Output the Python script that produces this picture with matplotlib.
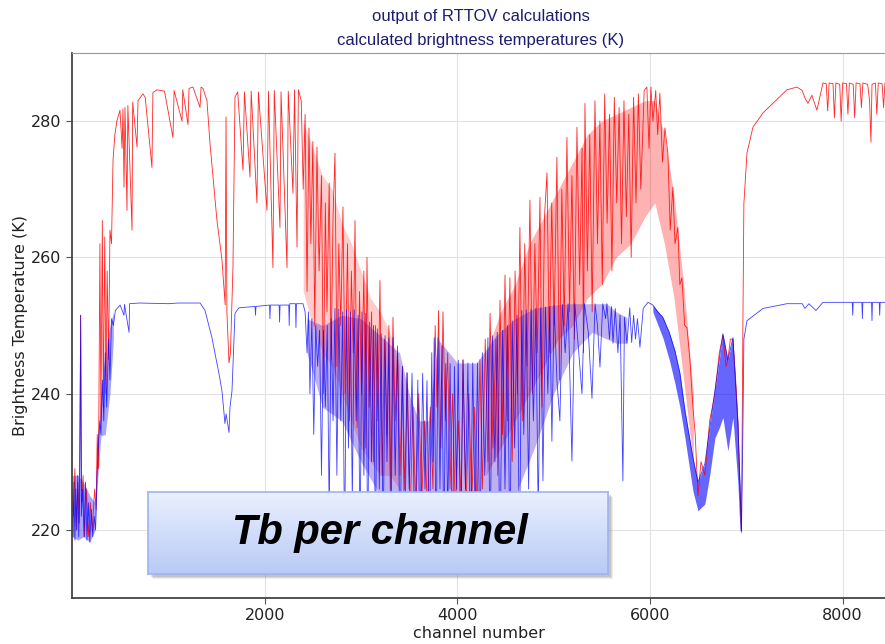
import numpy as np
import matplotlib.pyplot as plt
from matplotlib.patches import Rectangle
from matplotlib.colors import LinearSegmentedColormap

# brightness temperature per channel (channel, K)
red_pts = [
    (0, 226), (15, 222), (30, 229), (45, 220), (60, 227), (75, 221), (90, 251.5), (100, 224),
    (115, 228), (130, 219), (150, 226), (170, 219), (190, 224), (210, 220), (235, 226), (250, 223),
    (262, 234), (275, 229), (290, 262), (300, 236), (315, 265.4), (325, 238), (340, 263), (352, 240),
    (365, 258), (380, 245), (394, 264), (410, 262), (426, 274.3), (445, 278), (467, 280.1),
    (498, 281.6), (520, 276), (529, 281.8), (540, 270.3), (550, 282), (571, 266.9), (580, 282.3),
    (623, 264), (630, 282.8), (675, 276.2), (685, 283), (737, 284), (760, 283.5), (830, 273.2),
    (840, 284.2), (882, 284.6), (960, 284.4), (1048, 277.6), (1060, 284.5), (1142, 280),
    (1150, 284.6), (1204, 279.5), (1215, 284.8), (1256, 285), (1329, 282), (1340, 285),
    (1360, 284.8), (1401, 283), (1432, 276.8), (1464, 271.8), (1505, 265.4), (1557, 259.6),
    (1590, 253), (1599, 280.6), (1608, 252), (1630, 244.5), (1645, 246), (1671, 258.5),
    (1692, 283.5), (1720, 284.3), (1775, 272.8), (1790, 284.3), (1848, 271.8), (1860, 284.4),
    (1920, 268), (1935, 284.3), (2024, 266.9), (2040, 284.4), (2086, 258.5), (2100, 284.5),
    (2159, 264.4), (2170, 284.3), (2232, 258.5), (2245, 284.4), (2294, 269.4), (2310, 284.6),
    (2336, 261.5), (2350, 284.6), (2380, 283),
    (2400, 270), (2420, 281), (2440, 255), (2460, 279), (2480, 262), (2500, 277), (2520, 250),
    (2543, 276.2), (2565, 258), (2590, 272), (2610, 240), (2630, 268), (2647, 252), (2670, 270.9),
    (2690, 245), (2710, 266), (2730, 275.3), (2750, 244), (2770, 262), (2790, 250), (2813, 267.4),
    (2835, 240), (2860, 262), (2880, 236), (2900, 258), (2920, 246), (2938, 265.4), (2960, 235),
    (2985, 255), (3005, 240), (3030, 258), (3050, 232), (3062, 260), (3085, 238), (3110, 252),
    (3130, 230), (3150, 250), (3175, 236), (3197, 256.6), (3220, 228), (3245, 248), (3270, 234),
    (3290, 250), (3310, 226), (3332, 251.2), (3355, 236), (3380, 245.9), (3405, 228), (3430, 244),
    (3455, 226), (3480, 243), (3510, 222), (3540, 238), (3570, 222), (3600, 240), (3630, 224),
    (3660, 236), (3690, 222), (3720, 238), (3747, 226), (3770, 250), (3789, 238), (3805, 252.2),
    (3830, 232), (3851, 252), (3875, 236), (3900, 246), (3924, 226), (3950, 240), (3980, 222),
    (4010, 236), (4040, 224), (4059, 245), (4090, 222), (4120, 240), (4150, 224), (4180, 238),
    (4204, 222), (4235, 245), (4260, 226), (4290, 248), (4318, 230), (4340, 251.8), (4370, 232),
    (4400, 248), (4420, 228), (4443, 253.7), (4470, 234), (4495, 257.4), (4520, 236), (4546, 257),
    (4570, 230), (4600, 258), (4625, 240), (4650, 264.4), (4675, 236), (4700, 262), (4725, 244),
    (4754, 268.4), (4780, 240), (4805, 262), (4830, 246), (4858, 268.8), (4880, 238), (4905, 266),
    (4931, 272.4), (4955, 246), (4980, 268), (5005, 250), (5034, 274.7), (5060, 242), (5085, 270),
    (5110, 250), (5138, 277.6), (5165, 252), (5190, 272), (5215, 248), (5242, 279.1), (5270, 256),
    (5295, 276), (5310, 246), (5325, 282.6), (5350, 258), (5375, 278), (5400, 252), (5429, 283),
    (5455, 262), (5480, 280), (5505, 256), (5530, 284), (5555, 265), (5580, 281), (5605, 258),
    (5630, 283.5), (5655, 268), (5680, 282), (5705, 262), (5730, 283), (5755, 266), (5780, 281),
    (5805, 260), (5830, 283.5), (5855, 268), (5880, 284), (5905, 270), (5940, 284.5), (5968, 285),
    (5990, 276), (6010, 285), (6031, 280), (6060, 284.5), (6080, 278), (6103, 284.1), (6130, 274),
    (6155, 279), (6186, 275.3), (6210, 264), (6238, 270.3), (6260, 262), (6290, 264.4), (6310, 256),
    (6332, 257), (6360, 250), (6384, 249.7), (6415, 244.9), (6446, 238), (6470, 234), (6488, 228),
    (6498, 225), (6530, 230), (6570, 228), (6620, 236), (6674, 240), (6720, 246), (6757, 248.5),
    (6790, 244), (6809, 245), (6835, 248), (6861, 248), (6890, 242), (6913, 236), (6934, 226),
    (6950, 220), (6965, 250.7), (6975, 267.9), (7007, 275.3), (7069, 279.1), (7173, 281.2),
    (7276, 282.6), (7422, 284.6), (7526, 285), (7580, 284.5), (7609, 283.4), (7640, 282.6),
    (7681, 283.8), (7733, 281.6), (7796, 285.6), (7830, 285.5), (7845, 281.5), (7860, 285.6),
    (7900, 285.5), (7915, 280.5), (7930, 285.6), (7970, 285.4), (7985, 280), (8000, 285.6),
    (8040, 285.5), (8055, 281), (8070, 285.6), (8110, 285.4), (8125, 280.5), (8140, 285.6),
    (8180, 285.5), (8195, 282), (8210, 285.6), (8260, 285.4), (8280, 283), (8294, 276.9),
    (8305, 285.4), (8340, 285.6), (8355, 281), (8370, 285.6), (8410, 285.5), (8425, 282),
    (8440, 285.6), (8461, 285.6),
]

blue_pts = [
    (0, 224), (10, 219), (20, 227), (30, 218.5), (40, 226), (50, 220), (60, 228), (70, 219),
    (80, 225), (90, 251.5), (97, 222), (110, 226), (125, 219), (140, 227), (155, 218.5),
    (170, 224), (185, 218.2), (200, 223), (215, 219), (230, 222), (245, 220), (260, 228),
    (275, 233), (290, 236), (300, 234), (315, 242), (330, 236), (345, 246), (360, 238),
    (380, 248), (394, 242), (410, 251), (430, 250), (450, 252.2), (500, 253), (540, 251.5),
    (545, 253.1), (592, 249), (598, 253.2), (700, 253.3), (1000, 253.2), (1100, 253.3),
    (1330, 253.3), (1381, 252.2), (1453, 248.2), (1526, 242.9), (1557, 240.4), (1588, 235.6),
    (1600, 237), (1630, 234.3), (1640, 238), (1661, 240.4), (1692, 251.8), (1733, 252.6),
    (1900, 252.8), (1905, 251.5), (1910, 252.8), (2050, 253), (2055, 251), (2060, 253),
    (2150, 253), (2155, 250.5), (2160, 253), (2250, 253), (2255, 250), (2260, 253.2),
    (2320, 253.2), (2325, 249.7), (2330, 253.2), (2398, 253.2),
    (2420, 252), (2440, 246), (2455, 252), (2470, 240), (2490, 251), (2510, 234), (2530, 250),
    (2550, 244), (2570, 249.3), (2590, 228), (2610, 249.3), (2630, 238), (2650, 250), (2670, 222),
    (2690, 251), (2710, 236), (2730, 252.5), (2750, 228), (2770, 252.4), (2790, 236), (2810, 252),
    (2830, 216), (2850, 252.3), (2870, 232), (2890, 252), (2910, 224), (2930, 252.3), (2950, 236),
    (2970, 251.5), (2990, 216), (3010, 252), (3030, 228), (3050, 251.8), (3070, 216), (3090, 250.5),
    (3110, 230), (3130, 250), (3150, 216), (3170, 249.5), (3190, 226), (3210, 248.8), (3230, 216),
    (3250, 248.5), (3270, 230), (3290, 248.2), (3310, 216), (3332, 248.2), (3355, 228), (3380, 247),
    (3405, 216), (3430, 244), (3455, 216), (3477, 243.1), (3500, 226), (3530, 243), (3560, 216),
    (3590, 242), (3612, 216), (3640, 243), (3665, 226), (3685, 241.9), (3710, 216), (3735, 246),
    (3747, 230), (3760, 248.2), (3780, 216), (3800, 248.2), (3820, 226), (3840, 247), (3860, 216),
    (3880, 244.4), (3900, 222), (3925, 244.4), (3950, 216), (3970, 244), (3990, 226), (4010, 244.9),
    (4035, 216), (4059, 244.9), (4085, 226), (4110, 244.5), (4135, 216), (4160, 244.5), (4185, 222),
    (4210, 244.5), (4235, 216), (4260, 246), (4285, 228), (4318, 248.2), (4340, 216), (4365, 248.5),
    (4390, 230), (4415, 249), (4443, 216), (4470, 249.3), (4495, 226), (4520, 250), (4546, 216),
    (4570, 250.7), (4595, 232), (4620, 251.5), (4645, 216), (4670, 252.2), (4690, 234),
    (4715, 252.3), (4740, 226), (4765, 252.4), (4790, 236), (4815, 252.5), (4840, 222),
    (4865, 252.6), (4889, 227.2), (4915, 252.7), (4940, 240), (4960, 252.8), (4982, 233),
    (5005, 253), (5034, 242), (5065, 236), (5090, 253.1), (5120, 246), (5150, 253.2), (5190, 230.1),
    (5220, 253.2), (5250, 248), (5294, 240), (5320, 253.2), (5360, 249), (5398, 239.3),
    (5430, 253.2), (5455, 250), (5481, 243.9), (5510, 253.2), (5540, 251), (5553, 253.2),
    (5580, 248), (5600, 252.8), (5616, 247.4), (5640, 252.5), (5667, 246), (5690, 251.5),
    (5719, 227.2), (5735, 251.2), (5761, 247.4), (5790, 252.6), (5810, 247.5), (5830, 251.5),
    (5850, 248), (5870, 251), (5896, 246.8), (5930, 252.5), (5979, 253.4), (6030, 253),
    (6080, 252), (6134, 251.2), (6200, 249), (6259, 246.3), (6311, 243), (6363, 237.5),
    (6446, 230.6), (6498, 227), (6570, 229.7), (6674, 240.4), (6757, 248.8), (6809, 244.9),
    (6861, 248.2), (6913, 235.6), (6934, 226.8), (6950, 219.8), (6965, 235), (6975, 248),
    (7007, 250.7), (7173, 252.5), (7422, 253.2), (7580, 253.2), (7609, 252.5), (7650, 253.2),
    (7723, 252.2), (7796, 253.4), (8100, 253.4), (8105, 251.5), (8110, 253.4), (8200, 253.4),
    (8205, 251), (8210, 253.4), (8300, 253.4), (8305, 250.7), (8310, 253.4), (8380, 253.4),
    (8385, 251.5), (8390, 253.4), (8461, 253.4),
]

# spread of the densely packed lines (channel, upper K, lower K)
red_band_ch = [2400, 2500, 2600, 2700, 2800, 2900, 3000, 3100, 3200, 3300, 3400]
red_band_hi = [280, 276, 272, 270, 265, 262, 258, 254, 252, 249, 244]
red_band_lo = [255, 250, 246, 244, 240, 236, 232, 230, 228, 228, 226]

red_band2_ch = [4300, 4450, 4600, 4750, 4900, 5050, 5200, 5350, 5500, 5650, 5800, 5950, 6050, 6150, 6250, 6350, 6450]
red_band2_hi = [246, 252, 256, 262, 266, 270, 274, 278, 280, 281, 282, 283, 283, 278, 269, 256, 240]
red_band2_lo = [228, 232, 236, 240, 244, 248, 250, 254, 256, 260, 262, 266, 268, 262, 254, 242, 230]

blue_band_ch = [0, 60, 120, 185, 240, 260, 300, 345, 394, 430]
blue_band_hi = [228, 228, 227, 225, 224, 232, 240, 246, 250, 252]
blue_band_lo = [219, 218.5, 219, 218.2, 220, 226, 233.8, 234, 240, 248]

blue_band2_ch = [2440, 2600, 2800, 3000, 3200, 3400, 3500, 3600, 3700, 3800, 4000, 4200, 4400, 4600, 4800, 5000, 5200, 5400, 5553, 5650, 5761]
blue_band2_hi = [251, 250, 251.5, 251, 248.5, 246, 240, 236, 236, 248, 244.5, 244.5, 248.5, 251, 252.5, 253, 253.2, 253.2, 253.2, 252, 251.2]
blue_band2_lo = [246, 238, 236, 230, 225, 220, 220, 220, 220, 220, 220, 220, 220, 225, 232, 240, 246, 249, 248, 247.4, 247.4]

blue_band3_ch = [6030, 6134, 6200, 6259, 6311, 6363, 6446, 6498, 6570, 6620, 6674, 6720, 6757, 6809, 6861, 6913, 6934, 6950]
blue_band3_hi = [253, 251.2, 249, 246.3, 243, 237.5, 230.6, 227, 229.7, 235, 240.4, 245, 248.8, 244.9, 248.2, 235.6, 226.8, 221]
blue_band3_lo = [252, 248.2, 245, 241.5, 238, 233.5, 225.7, 222.8, 223.8, 228, 233.5, 235, 236.5, 231.6, 236.5, 226.8, 220, 219.5]

x_ticks = [2000, 4000, 6000, 8000]
y_ticks = [220, 240, 260, 280]

red_ch, red_tb = np.array(red_pts).T
blue_ch, blue_tb = np.array(blue_pts).T

W, H = 885, 644
fig = plt.figure(figsize=(W / 100, H / 100), dpi=100)
ax = fig.add_axes([72 / W, 46 / H, (W - 72) / W, 545 / H])

# red first, blue drawn over it so overlaps come out purple
ax.fill_between(red_band_ch, red_band_lo, red_band_hi, color='#ff0000', alpha=0.2, lw=0)
ax.fill_between(red_band2_ch, red_band2_lo, red_band2_hi, color='#ff0000', alpha=0.3, lw=0)
ax.plot(red_ch, red_tb, color='#ff0000', lw=0.6, alpha=0.85)

ax.fill_between(blue_band_ch, blue_band_lo, blue_band_hi, color='#0000ff', alpha=0.35, lw=0)
ax.fill_between(blue_band2_ch, blue_band2_lo, blue_band2_hi, color='#4a22cc', alpha=0.35, lw=0)
ax.fill_between(blue_band3_ch, blue_band3_lo, blue_band3_hi, color='#0000ff', alpha=0.6, lw=0)
ax.plot(blue_ch, blue_tb, color='#0000ff', lw=0.6, alpha=0.75)

ax.set_xlim(0, 8440)
ax.set_ylim(210, 290)
ax.set_xticks(x_ticks)
ax.set_yticks(y_ticks)
ax.grid(color='#e2e2e2', lw=0.8)
ax.set_axisbelow(True)
ax.tick_params(labelsize=11.5, length=4, width=0.8, color='#555555', labelcolor='#222222')
for s in ['left', 'bottom']:
    ax.spines[s].set_color('#444444')
    ax.spines[s].set_linewidth(1.3)
ax.spines['top'].set_color('#999999')
ax.spines['right'].set_visible(False)
ax.set_xlabel('channel number', fontsize=11.5, color='#222222', labelpad=2)
ax.set_ylabel('Brightness Temperature (K)', fontsize=11.5, color='#222222', labelpad=2)

fig.text(481 / W, 1 - 17 / H, 'output of RTTOV calculations', ha='center', va='center',
         fontsize=12, color='#1c1c6e', family=['Liberation Sans', 'DejaVu Sans'])
fig.text(481 / W, 1 - 40 / H, 'calculated brightness temperatures (K)', ha='center', va='center',
         fontsize=12, color='#1c1c6e', family=['Liberation Sans', 'DejaVu Sans'])

# "Tb per channel" label box with a soft shadow
bx, by, bw, bh = 148 / W, 70 / H, 460 / W, 82 / H
for k, a in [(5, 0.10), (4, 0.14), (3, 0.18)]:
    fig.patches.append(Rectangle((bx + k / W, by - k / H), bw, bh, transform=fig.transFigure,
                                 color='#606060', alpha=a, lw=0, zorder=4))
box = fig.add_axes([bx, by, bw, bh], zorder=5)
cmap = LinearSegmentedColormap.from_list('boxfill', ['#eaf0fd', '#b8caf6'])
box.imshow(np.linspace(0, 1, 64).reshape(-1, 1), aspect='auto', cmap=cmap,
           extent=[0, 1, 0, 1], origin='upper')
box.set_xticks([])
box.set_yticks([])
for s in box.spines.values():
    s.set_color('#9fb4ee')
    s.set_linewidth(1.2)
box.text(0.505, 0.5, 'Tb per channel', ha='center', va='center', transform=box.transAxes,
         fontsize=30, fontweight='bold', fontstyle='italic', color='black',
         family=['Liberation Sans', 'DejaVu Sans'])

fig.savefig('out.png', dpi=100)
